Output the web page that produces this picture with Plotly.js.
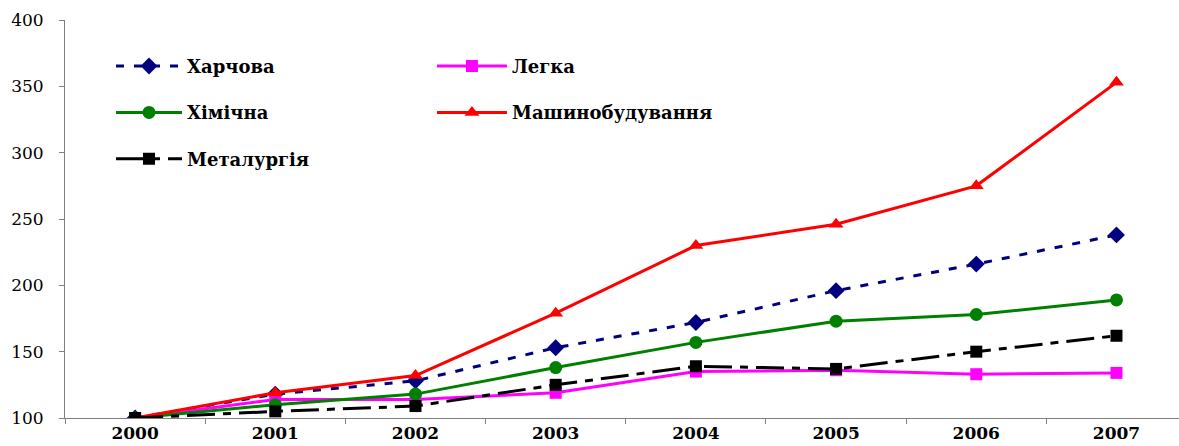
<!DOCTYPE html>
<html>
<head>
<meta charset="utf-8">
<script src="https://cdn.plot.ly/plotly-3.0.1.min.js"></script>
<style>html,body{margin:0;padding:0;background:#fff;}#chart{width:1179px;height:446px;}</style>
</head>
<body>
<div id="chart"></div>
<script>
const years = ['2000','2001','2002','2003','2004','2005','2006','2007'];
const kharchova = [100, 118, 128, 153, 172, 196, 216, 238];
const lehka = [100, 114, 114, 119, 135, 136, 133, 134];
const khimichna = [100, 110, 118, 138, 157, 173, 178, 189];
const mashyno = [100, 119, 132, 179, 230, 246, 275, 353];
const metal = [100, 105, 109, 125, 139, 137, 150, 162];
const yTicks = [100, 150, 200, 250, 300, 350, 400];

const F = 'DejaVu Serif, Liberation Serif, serif';
const traces = [
  {name: 'Харчова', y: kharchova, legend: 'legend', legendgroup: 'a',
   line: {color: '#000080', width: 3, dash: '8px,10px'},
   marker: {symbol: 'diamond', size: 13, color: '#000080'}},
  {name: 'Легка', y: lehka, legend: 'legend2', legendgroup: 'b',
   line: {color: '#FF00FF', width: 3},
   marker: {symbol: 'square', size: 12, color: '#FF00FF'}},
  {name: 'Хімічна', y: khimichna, legend: 'legend', legendgroup: 'c',
   line: {color: '#008000', width: 3},
   marker: {symbol: 'circle', size: 13, color: '#008000'}},
  {name: 'Машинобудування', y: mashyno, legend: 'legend2', legendgroup: 'd',
   line: {color: '#FF0000', width: 3},
   marker: {symbol: 'triangle-up', size: 13, color: '#FF0000'}},
  {name: 'Металургія', y: metal, legend: 'legend', legendgroup: 'e',
   line: {color: '#000000', width: 3, dash: '28px,8px,8px,8px'},
   marker: {symbol: 'square', size: 12, color: '#000000'}}
].map(t => Object.assign({x: years, type: 'scatter', mode: 'lines+markers'}, t));

const legFont = {family: F, size: 18, color: '#000', weight: 'bold'};
const layout = {
  width: 1179, height: 446,
  margin: {l: 65, r: 0, t: 20, b: 28},
  paper_bgcolor: '#fff', plot_bgcolor: '#fff',
  showlegend: true,
  xaxis: {type: 'category', range: [-0.5, 7.446], tickson: 'boundaries',
    ticks: 'outside', ticklen: 5, tickcolor: '#808080',
    showline: true, linecolor: '#808080', linewidth: 1, showgrid: false, zeroline: false,
    tickfont: {family: F, size: 17, color: '#000', weight: 'bold'}},
  yaxis: {range: [100, 400], tickvals: yTicks, ticks: 'outside', ticklen: 5, tickcolor: '#808080',
    ticklabelstandoff: 12,
    showline: true, linecolor: '#808080', linewidth: 1, showgrid: false, zeroline: false,
    tickfont: {family: F, size: 17, color: '#000'}},
  legend: {x: 0.0413, y: 0.93, xanchor: 'left', yanchor: 'top', bgcolor: 'rgba(0,0,0,0)',
    itemwidth: 66, traceorder: 'grouped', tracegroupgap: 20, font: legFont},
  legend2: {x: 0.3294, y: 0.93, xanchor: 'left', yanchor: 'top', bgcolor: 'rgba(0,0,0,0)',
    itemwidth: 70, traceorder: 'grouped', tracegroupgap: 20, font: legFont}
};
Plotly.newPlot('chart', traces, layout, {displayModeBar: false, staticPlot: true});
</script>
</body>
</html>
